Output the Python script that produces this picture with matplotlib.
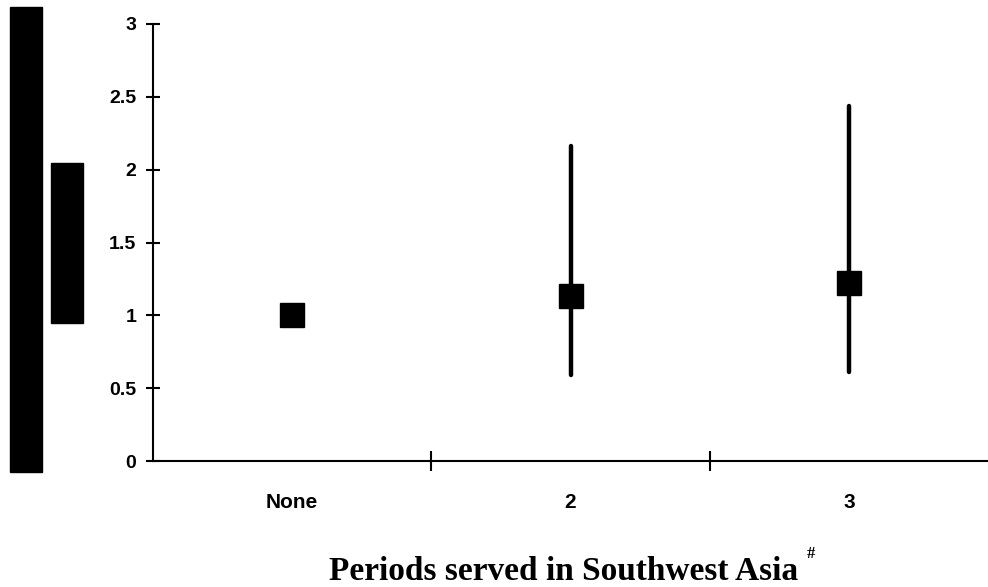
import matplotlib
matplotlib.use('Agg')
import matplotlib.pyplot as plt
from matplotlib.patches import Rectangle

# data
categories = ['None', '2', '3']
estimate = [1.0, 1.13, 1.22]
lower = [1.0, 0.59, 0.61]
upper = [1.0, 2.16, 2.44]
yticks = [0, 0.5, 1, 1.5, 2, 2.5, 3]
ytick_labels = ['0', '0.5', '1', '1.5', '2', '2.5', '3']

fig = plt.figure(figsize=(9.88, 5.87), dpi=100)
ax = fig.add_axes([153 / 988, 1 - 461 / 587, 1 - 153 / 988, (461 - 24) / 587])

x = list(range(len(categories)))
for xi, lo, hi in zip(x, lower, upper):
    if hi > lo:
        ax.plot([xi, xi], [lo, hi], color='black', lw=3.2, solid_capstyle='round', zorder=2)
ax.plot(x, estimate, linestyle='none', marker='s', markersize=17.5, color='black', zorder=3)

ax.set_xlim(-0.5, 2.5)
ax.set_ylim(0, 3)
ax.spines['top'].set_visible(False)
ax.spines['right'].set_visible(False)
ax.spines['left'].set_linewidth(1.5)
ax.spines['bottom'].set_linewidth(1.5)

ax.set_yticks(yticks)
ax.set_yticklabels(ytick_labels, fontfamily='Liberation Sans', fontweight='bold', fontsize=14)
ax.tick_params(axis='y', direction='inout', length=10, width=1.5, pad=7)

# category labels without marks, boundary marks without labels
ax.set_xticks(x)
ax.set_xticklabels(categories, fontfamily='Liberation Sans', fontweight='bold', fontsize=15)
ax.tick_params(axis='x', which='major', length=0, pad=23)
ax.set_xticks([0.5, 1.5], minor=True)
ax.tick_params(axis='x', which='minor', direction='inout', length=14, width=1.5)

fig.text(564 / 988, 1 - 580 / 587, 'Periods served in Southwest Asia', ha='center', va='baseline',
         fontfamily='Liberation Serif', fontweight='bold', fontsize=24)
fig.text(811 / 988, 1 - 554 / 587, '#', ha='center', va='center',
         fontfamily='Liberation Serif', fontweight='bold', fontsize=12)

# black blocks on the left edge
fig.patches.append(Rectangle((10 / 988, 1 - 472 / 587), 32 / 988, 465 / 587,
                             transform=fig.transFigure, color='black', figure=fig))
fig.patches.append(Rectangle((51 / 988, 1 - 323 / 587), 32 / 988, 160 / 587,
                             transform=fig.transFigure, color='black', figure=fig))

fig.savefig('out.png', dpi=100)
